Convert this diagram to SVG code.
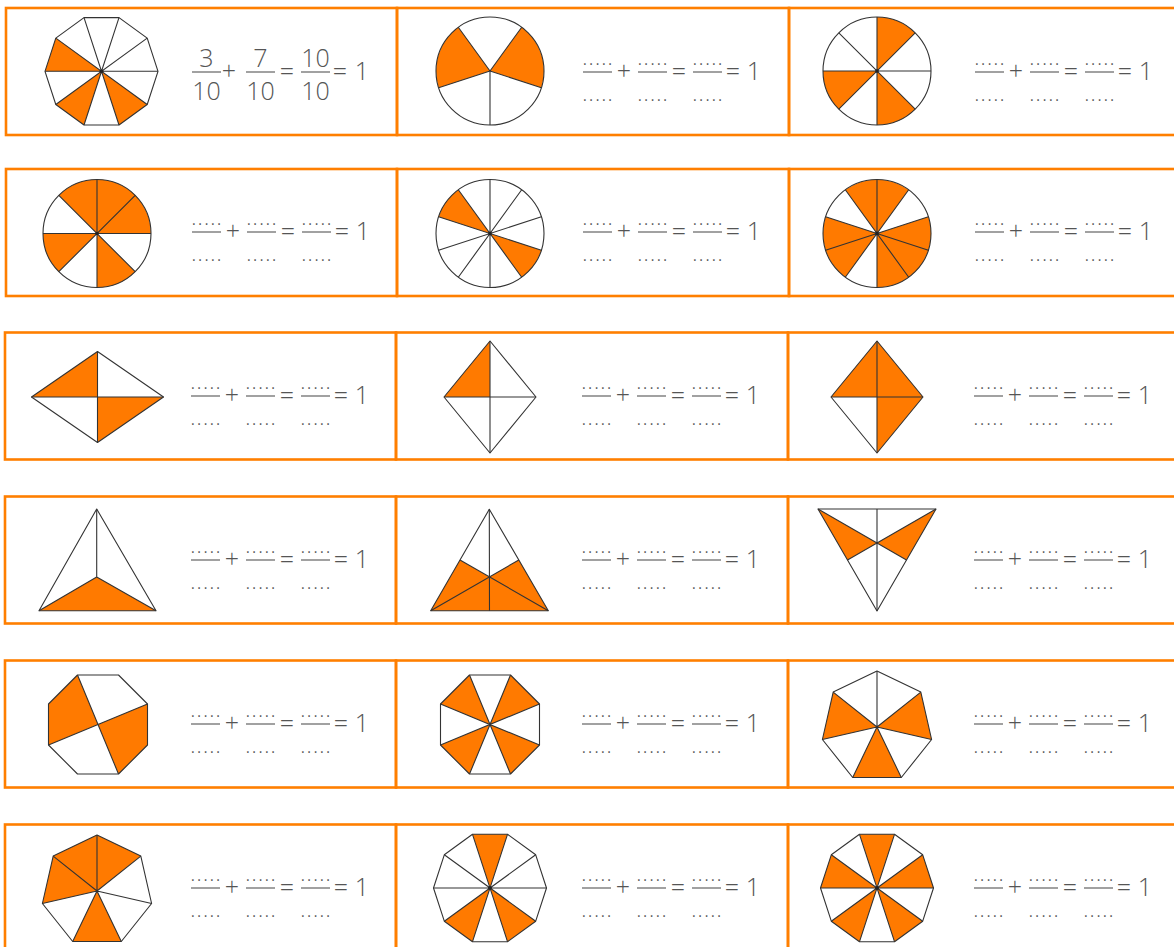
<svg xmlns="http://www.w3.org/2000/svg" width="1174" height="947" viewBox="0 0 1174 947">
<style>
.cell{fill:none;stroke:#FF7F00;stroke-width:2.6}
.or{fill:#FF7A00;stroke:none}
.ln{fill:none;stroke:#333;stroke-width:1.1;stroke-linejoin:round}
.dot{fill:#222}
.bar{stroke:#555;stroke-width:1.1}
.d{font-family:"Open Sans","Liberation Sans",sans-serif;font-size:14px;fill:#555}
.op{font-family:"Open Sans","Liberation Sans",sans-serif;font-weight:300;font-size:25px;fill:#555;text-anchor:middle}
</style>
<rect width="1174" height="947" fill="#fff"/>

<!-- Row 1 -->
<g id="r1c1">
<rect class="cell" x="6" y="8" width="391" height="127"/>
<g transform="translate(101.5,71.3)">
<path class="or" d="M0,0 L-45.7,-33.2 L-56.5,0Z M0,0 L-45.7,33.2 L-17.5,53.7Z M0,0 L17.5,53.7 L45.7,33.2Z"/>
<polygon class="ln" points="56.5,0 45.7,-33.2 17.5,-53.7 -17.5,-53.7 -45.7,-33.2 -56.5,0 -45.7,33.2 -17.5,53.7 17.5,53.7 45.7,33.2"/>
<path class="ln" d="M56.5,0 L-56.5,0 M45.7,-33.2 L-45.7,33.2 M17.5,-53.7 L-17.5,53.7 M-17.5,-53.7 L17.5,53.7 M-45.7,-33.2 L45.7,33.2"/>
<circle class="dot" r="1.8"/>
</g>
<g transform="translate(6,72)">
<text class="op" x="200.5" y="-5">3</text>
<line class="bar" x1="186" y1="0" x2="215" y2="0"/>
<text class="op" x="200.5" y="28">10</text>
<text class="op" x="223" y="8">+</text>
<text class="op" x="254.5" y="-5">7</text>
<line class="bar" x1="240" y1="0" x2="269" y2="0"/>
<text class="op" x="254.5" y="28">10</text>
<text class="op" x="281" y="8">=</text>
<text class="op" x="309.5" y="-5">10</text>
<line class="bar" x1="295" y1="0" x2="324" y2="0"/>
<text class="op" x="309.5" y="28">10</text>
<text class="op" x="334" y="8">=</text>
<text class="op" x="356" y="8">1</text>
</g>
</g>

<g id="r1c2">
<rect class="cell" x="397" y="8" width="392" height="127"/>
<g transform="translate(490,71)">
<path class="or" d="M0,0 L51.4,16.7 A54,54 0 0 0 31.7,-43.7Z M0,0 L-31.7,-43.7 A54,54 0 0 0 -51.4,16.7Z"/>
<circle class="ln" r="54"/>
<path class="ln" d="M0,0 L0,54 M0,0 L51.4,16.7 M0,0 L31.7,-43.7 M0,0 L-31.7,-43.7 M0,0 L-51.4,16.7"/>
</g>
<g transform="translate(397,72)">
<text class="d" x="186" y="-7" textLength="29" lengthAdjust="spacing">.....</text>
<line class="bar" x1="186" y1="0" x2="215" y2="0"/>
<text class="d" x="186" y="29" textLength="29" lengthAdjust="spacing">.....</text>
<text class="op" x="227" y="8">+</text>
<text class="d" x="241" y="-7" textLength="29" lengthAdjust="spacing">.....</text>
<line class="bar" x1="241" y1="0" x2="270" y2="0"/>
<text class="d" x="241" y="29" textLength="29" lengthAdjust="spacing">.....</text>
<text class="op" x="282" y="8">=</text>
<text class="d" x="296" y="-7" textLength="29" lengthAdjust="spacing">.....</text>
<line class="bar" x1="296" y1="0" x2="325" y2="0"/>
<text class="d" x="296" y="29" textLength="29" lengthAdjust="spacing">.....</text>
<text class="op" x="336" y="8">=</text>
<text class="op" x="357" y="8">1</text>
</g>
</g>

<g id="r1c3">
<rect class="cell" x="789" y="8" width="392" height="127"/>
<g transform="translate(877,71)">
<path class="or" d="M0,0 L38.2,-38.2 A54,54 0 0 0 0,-54Z M0,0 L-54,0 A54,54 0 0 0 -38.2,38.2Z M0,0 L0,54 A54,54 0 0 0 38.2,38.2Z"/>
<circle class="ln" r="54"/>
<path class="ln" d="M-54,0 L54,0 M0,-54 L0,54 M-38.2,-38.2 L38.2,38.2 M-38.2,38.2 L38.2,-38.2"/>
<circle class="dot" r="1.8"/>
</g>
<g transform="translate(789,72)">
<text class="d" x="186" y="-7" textLength="29" lengthAdjust="spacing">.....</text>
<line class="bar" x1="186" y1="0" x2="215" y2="0"/>
<text class="d" x="186" y="29" textLength="29" lengthAdjust="spacing">.....</text>
<text class="op" x="227" y="8">+</text>
<text class="d" x="241" y="-7" textLength="29" lengthAdjust="spacing">.....</text>
<line class="bar" x1="241" y1="0" x2="270" y2="0"/>
<text class="d" x="241" y="29" textLength="29" lengthAdjust="spacing">.....</text>
<text class="op" x="282" y="8">=</text>
<text class="d" x="296" y="-7" textLength="29" lengthAdjust="spacing">.....</text>
<line class="bar" x1="296" y1="0" x2="325" y2="0"/>
<text class="d" x="296" y="29" textLength="29" lengthAdjust="spacing">.....</text>
<text class="op" x="336" y="8">=</text>
<text class="op" x="357" y="8">1</text>
</g>
</g>

<!-- Row 2 -->
<g id="r2c1">
<rect class="cell" x="6" y="169" width="391" height="127"/>
<g transform="translate(97,233.5)">
<path class="or" d="M0,0 L54,0 A54,54 0 0 0 -38.2,-38.2Z M0,0 L-54,0 A54,54 0 0 0 -38.2,38.2Z M0,0 L0,54 A54,54 0 0 0 38.2,38.2Z"/>
<circle class="ln" r="54"/>
<path class="ln" d="M-54,0 L54,0 M0,-54 L0,54 M-38.2,-38.2 L38.2,38.2 M-38.2,38.2 L38.2,-38.2"/>
<circle class="dot" r="1.8"/>
</g>
<g transform="translate(6,232)">
<text class="d" x="186" y="-7" textLength="29" lengthAdjust="spacing">.....</text>
<line class="bar" x1="186" y1="0" x2="215" y2="0"/>
<text class="d" x="186" y="29" textLength="29" lengthAdjust="spacing">.....</text>
<text class="op" x="227" y="8">+</text>
<text class="d" x="241" y="-7" textLength="29" lengthAdjust="spacing">.....</text>
<line class="bar" x1="241" y1="0" x2="270" y2="0"/>
<text class="d" x="241" y="29" textLength="29" lengthAdjust="spacing">.....</text>
<text class="op" x="282" y="8">=</text>
<text class="d" x="296" y="-7" textLength="29" lengthAdjust="spacing">.....</text>
<line class="bar" x1="296" y1="0" x2="325" y2="0"/>
<text class="d" x="296" y="29" textLength="29" lengthAdjust="spacing">.....</text>
<text class="op" x="336" y="8">=</text>
<text class="op" x="357" y="8">1</text>
</g>
</g>

<g id="r2c2">
<rect class="cell" x="397" y="169" width="392" height="127"/>
<g transform="translate(490,233.5)">
<path class="or" d="M0,0 L-31.7,-43.7 A54,54 0 0 0 -51.4,-16.7Z M0,0 L31.7,43.7 A54,54 0 0 0 51.4,16.7Z"/>
<circle class="ln" r="54"/>
<path class="ln" d="M51.4,-16.7 L-51.4,16.7 M31.7,-43.7 L-31.7,43.7 M0,-54 L0,54 M-31.7,-43.7 L31.7,43.7 M-51.4,-16.7 L51.4,16.7"/>
<circle class="dot" r="1.8"/>
</g>
<g transform="translate(397,232)">
<text class="d" x="186" y="-7" textLength="29" lengthAdjust="spacing">.....</text>
<line class="bar" x1="186" y1="0" x2="215" y2="0"/>
<text class="d" x="186" y="29" textLength="29" lengthAdjust="spacing">.....</text>
<text class="op" x="227" y="8">+</text>
<text class="d" x="241" y="-7" textLength="29" lengthAdjust="spacing">.....</text>
<line class="bar" x1="241" y1="0" x2="270" y2="0"/>
<text class="d" x="241" y="29" textLength="29" lengthAdjust="spacing">.....</text>
<text class="op" x="282" y="8">=</text>
<text class="d" x="296" y="-7" textLength="29" lengthAdjust="spacing">.....</text>
<line class="bar" x1="296" y1="0" x2="325" y2="0"/>
<text class="d" x="296" y="29" textLength="29" lengthAdjust="spacing">.....</text>
<text class="op" x="336" y="8">=</text>
<text class="op" x="357" y="8">1</text>
</g>
</g>

<g id="r2c3">
<rect class="cell" x="789" y="169" width="392" height="127"/>
<g transform="translate(877,233.5)">
<path class="or" d="M0,0 L31.7,-43.7 A54,54 0 0 0 -31.7,-43.7Z M0,0 L-51.4,-16.7 A54,54 0 0 0 -31.7,43.7Z M0,0 L0,54 A54,54 0 0 0 51.4,-16.7Z"/>
<circle class="ln" r="54"/>
<path class="ln" d="M51.4,-16.7 L-51.4,16.7 M31.7,-43.7 L-31.7,43.7 M0,-54 L0,54 M-31.7,-43.7 L31.7,43.7 M-51.4,-16.7 L51.4,16.7"/>
<circle class="dot" r="1.8"/>
</g>
<g transform="translate(789,232)">
<text class="d" x="186" y="-7" textLength="29" lengthAdjust="spacing">.....</text>
<line class="bar" x1="186" y1="0" x2="215" y2="0"/>
<text class="d" x="186" y="29" textLength="29" lengthAdjust="spacing">.....</text>
<text class="op" x="227" y="8">+</text>
<text class="d" x="241" y="-7" textLength="29" lengthAdjust="spacing">.....</text>
<line class="bar" x1="241" y1="0" x2="270" y2="0"/>
<text class="d" x="241" y="29" textLength="29" lengthAdjust="spacing">.....</text>
<text class="op" x="282" y="8">=</text>
<text class="d" x="296" y="-7" textLength="29" lengthAdjust="spacing">.....</text>
<line class="bar" x1="296" y1="0" x2="325" y2="0"/>
<text class="d" x="296" y="29" textLength="29" lengthAdjust="spacing">.....</text>
<text class="op" x="336" y="8">=</text>
<text class="op" x="357" y="8">1</text>
</g>
</g>

<!-- Row 3 -->
<g id="r3c1">
<rect class="cell" x="5" y="332.5" width="391" height="127"/>
<g transform="translate(97.5,397)">
<path class="or" d="M-66,0 L0,-45.5 L0,0Z M0,0 L66,0 L0,45.5Z"/>
<polygon class="ln" points="-66,0 0,-45.5 66,0 0,45.5"/>
<path class="ln" d="M-66,0 L66,0 M0,-45.5 L0,45.5"/>
</g>
<g transform="translate(5,396)">
<text class="d" x="186" y="-7" textLength="29" lengthAdjust="spacing">.....</text>
<line class="bar" x1="186" y1="0" x2="215" y2="0"/>
<text class="d" x="186" y="29" textLength="29" lengthAdjust="spacing">.....</text>
<text class="op" x="227" y="8">+</text>
<text class="d" x="241" y="-7" textLength="29" lengthAdjust="spacing">.....</text>
<line class="bar" x1="241" y1="0" x2="270" y2="0"/>
<text class="d" x="241" y="29" textLength="29" lengthAdjust="spacing">.....</text>
<text class="op" x="282" y="8">=</text>
<text class="d" x="296" y="-7" textLength="29" lengthAdjust="spacing">.....</text>
<line class="bar" x1="296" y1="0" x2="325" y2="0"/>
<text class="d" x="296" y="29" textLength="29" lengthAdjust="spacing">.....</text>
<text class="op" x="336" y="8">=</text>
<text class="op" x="357" y="8">1</text>
</g>
</g>

<g id="r3c2">
<rect class="cell" x="396" y="332.5" width="392" height="127"/>
<g transform="translate(490,397)">
<path class="or" d="M-46,0 L0,-56 L0,0Z"/>
<polygon class="ln" points="-46,0 0,-56 46,0 0,56"/>
<path class="ln" d="M-46,0 L46,0 M0,-56 L0,56"/>
</g>
<g transform="translate(396,396)">
<text class="d" x="186" y="-7" textLength="29" lengthAdjust="spacing">.....</text>
<line class="bar" x1="186" y1="0" x2="215" y2="0"/>
<text class="d" x="186" y="29" textLength="29" lengthAdjust="spacing">.....</text>
<text class="op" x="227" y="8">+</text>
<text class="d" x="241" y="-7" textLength="29" lengthAdjust="spacing">.....</text>
<line class="bar" x1="241" y1="0" x2="270" y2="0"/>
<text class="d" x="241" y="29" textLength="29" lengthAdjust="spacing">.....</text>
<text class="op" x="282" y="8">=</text>
<text class="d" x="296" y="-7" textLength="29" lengthAdjust="spacing">.....</text>
<line class="bar" x1="296" y1="0" x2="325" y2="0"/>
<text class="d" x="296" y="29" textLength="29" lengthAdjust="spacing">.....</text>
<text class="op" x="336" y="8">=</text>
<text class="op" x="357" y="8">1</text>
</g>
</g>

<g id="r3c3">
<rect class="cell" x="788" y="332.5" width="393" height="127"/>
<g transform="translate(877,397)">
<path class="or" d="M-46,0 L0,-56 L46,0Z M0,0 L46,0 L0,56Z"/>
<polygon class="ln" points="-46,0 0,-56 46,0 0,56"/>
<path class="ln" d="M-46,0 L46,0 M0,-56 L0,56"/>
</g>
<g transform="translate(788,396)">
<text class="d" x="186" y="-7" textLength="29" lengthAdjust="spacing">.....</text>
<line class="bar" x1="186" y1="0" x2="215" y2="0"/>
<text class="d" x="186" y="29" textLength="29" lengthAdjust="spacing">.....</text>
<text class="op" x="227" y="8">+</text>
<text class="d" x="241" y="-7" textLength="29" lengthAdjust="spacing">.....</text>
<line class="bar" x1="241" y1="0" x2="270" y2="0"/>
<text class="d" x="241" y="29" textLength="29" lengthAdjust="spacing">.....</text>
<text class="op" x="282" y="8">=</text>
<text class="d" x="296" y="-7" textLength="29" lengthAdjust="spacing">.....</text>
<line class="bar" x1="296" y1="0" x2="325" y2="0"/>
<text class="d" x="296" y="29" textLength="29" lengthAdjust="spacing">.....</text>
<text class="op" x="336" y="8">=</text>
<text class="op" x="357" y="8">1</text>
</g>
</g>

<!-- Row 4 -->
<g id="r4c1">
<rect class="cell" x="5" y="496.5" width="391" height="127"/>
<path class="or" d="M39,610.7 L156,610.7 L96.7,577Z"/>
<polygon class="ln" points="96.7,509 156,610.7 39,610.7"/>
<path class="ln" d="M96.7,509 L96.7,577 L39,610.7 M96.7,577 L156,610.7"/>
<g transform="translate(5,560)">
<text class="d" x="186" y="-7" textLength="29" lengthAdjust="spacing">.....</text>
<line class="bar" x1="186" y1="0" x2="215" y2="0"/>
<text class="d" x="186" y="29" textLength="29" lengthAdjust="spacing">.....</text>
<text class="op" x="227" y="8">+</text>
<text class="d" x="241" y="-7" textLength="29" lengthAdjust="spacing">.....</text>
<line class="bar" x1="241" y1="0" x2="270" y2="0"/>
<text class="d" x="241" y="29" textLength="29" lengthAdjust="spacing">.....</text>
<text class="op" x="282" y="8">=</text>
<text class="d" x="296" y="-7" textLength="29" lengthAdjust="spacing">.....</text>
<line class="bar" x1="296" y1="0" x2="325" y2="0"/>
<text class="d" x="296" y="29" textLength="29" lengthAdjust="spacing">.....</text>
<text class="op" x="336" y="8">=</text>
<text class="op" x="357" y="8">1</text>
</g>
</g>

<g id="r4c2">
<rect class="cell" x="396" y="496.5" width="392" height="127"/>
<path class="or" d="M430.7,610.7 L460,560 L489.4,576.9 L518.8,560 L548.3,610.7Z"/>
<polygon class="ln" points="489.3,509.3 548.3,610.7 430.7,610.7"/>
<path class="ln" d="M489.3,509.3 L489.5,610.7 M430.7,610.7 L518.8,560 M548.3,610.7 L460,560"/>
<g transform="translate(396,560)">
<text class="d" x="186" y="-7" textLength="29" lengthAdjust="spacing">.....</text>
<line class="bar" x1="186" y1="0" x2="215" y2="0"/>
<text class="d" x="186" y="29" textLength="29" lengthAdjust="spacing">.....</text>
<text class="op" x="227" y="8">+</text>
<text class="d" x="241" y="-7" textLength="29" lengthAdjust="spacing">.....</text>
<line class="bar" x1="241" y1="0" x2="270" y2="0"/>
<text class="d" x="241" y="29" textLength="29" lengthAdjust="spacing">.....</text>
<text class="op" x="282" y="8">=</text>
<text class="d" x="296" y="-7" textLength="29" lengthAdjust="spacing">.....</text>
<line class="bar" x1="296" y1="0" x2="325" y2="0"/>
<text class="d" x="296" y="29" textLength="29" lengthAdjust="spacing">.....</text>
<text class="op" x="336" y="8">=</text>
<text class="op" x="357" y="8">1</text>
</g>
</g>

<g id="r4c3">
<rect class="cell" x="788" y="496.5" width="393" height="127"/>
<path class="or" d="M818,509 L877,543 L847.5,560Z M936,509 L877,543 L906.5,560Z"/>
<polygon class="ln" points="818,509 936,509 877,611"/>
<path class="ln" d="M877,509 L877,611 M818,509 L906.5,560 M936,509 L847.5,560"/>
<g transform="translate(788,560)">
<text class="d" x="186" y="-7" textLength="29" lengthAdjust="spacing">.....</text>
<line class="bar" x1="186" y1="0" x2="215" y2="0"/>
<text class="d" x="186" y="29" textLength="29" lengthAdjust="spacing">.....</text>
<text class="op" x="227" y="8">+</text>
<text class="d" x="241" y="-7" textLength="29" lengthAdjust="spacing">.....</text>
<line class="bar" x1="241" y1="0" x2="270" y2="0"/>
<text class="d" x="241" y="29" textLength="29" lengthAdjust="spacing">.....</text>
<text class="op" x="282" y="8">=</text>
<text class="d" x="296" y="-7" textLength="29" lengthAdjust="spacing">.....</text>
<line class="bar" x1="296" y1="0" x2="325" y2="0"/>
<text class="d" x="296" y="29" textLength="29" lengthAdjust="spacing">.....</text>
<text class="op" x="336" y="8">=</text>
<text class="op" x="357" y="8">1</text>
</g>
</g>

<!-- Row 5 -->
<g id="r5c1">
<rect class="cell" x="5" y="660.5" width="391" height="127"/>
<g transform="translate(98,724.5)">
<path class="or" d="M0,0 L-20.5,-49.5 L-49.5,-20.5 L-49.5,20.5Z M0,0 L20.5,49.5 L49.5,20.5 L49.5,-20.5Z"/>
<polygon class="ln" points="49.5,-20.5 20.5,-49.5 -20.5,-49.5 -49.5,-20.5 -49.5,20.5 -20.5,49.5 20.5,49.5 49.5,20.5"/>
<path class="ln" d="M-20.5,-49.5 L20.5,49.5 M-49.5,20.5 L49.5,-20.5"/>
</g>
<g transform="translate(5,724)">
<text class="d" x="186" y="-7" textLength="29" lengthAdjust="spacing">.....</text>
<line class="bar" x1="186" y1="0" x2="215" y2="0"/>
<text class="d" x="186" y="29" textLength="29" lengthAdjust="spacing">.....</text>
<text class="op" x="227" y="8">+</text>
<text class="d" x="241" y="-7" textLength="29" lengthAdjust="spacing">.....</text>
<line class="bar" x1="241" y1="0" x2="270" y2="0"/>
<text class="d" x="241" y="29" textLength="29" lengthAdjust="spacing">.....</text>
<text class="op" x="282" y="8">=</text>
<text class="d" x="296" y="-7" textLength="29" lengthAdjust="spacing">.....</text>
<line class="bar" x1="296" y1="0" x2="325" y2="0"/>
<text class="d" x="296" y="29" textLength="29" lengthAdjust="spacing">.....</text>
<text class="op" x="336" y="8">=</text>
<text class="op" x="357" y="8">1</text>
</g>
</g>

<g id="r5c2">
<rect class="cell" x="396" y="660.5" width="392" height="127"/>
<g transform="translate(490,724.5)">
<path class="or" d="M0,0 L49.5,-20.5 L20.5,-49.5Z M0,0 L-20.5,-49.5 L-49.5,-20.5Z M0,0 L-49.5,20.5 L-20.5,49.5Z M0,0 L20.5,49.5 L49.5,20.5Z"/>
<polygon class="ln" points="49.5,-20.5 20.5,-49.5 -20.5,-49.5 -49.5,-20.5 -49.5,20.5 -20.5,49.5 20.5,49.5 49.5,20.5"/>
<path class="ln" d="M-20.5,-49.5 L20.5,49.5 M-49.5,20.5 L49.5,-20.5 M20.5,-49.5 L-20.5,49.5 M-49.5,-20.5 L49.5,20.5"/>
</g>
<g transform="translate(396,724)">
<text class="d" x="186" y="-7" textLength="29" lengthAdjust="spacing">.....</text>
<line class="bar" x1="186" y1="0" x2="215" y2="0"/>
<text class="d" x="186" y="29" textLength="29" lengthAdjust="spacing">.....</text>
<text class="op" x="227" y="8">+</text>
<text class="d" x="241" y="-7" textLength="29" lengthAdjust="spacing">.....</text>
<line class="bar" x1="241" y1="0" x2="270" y2="0"/>
<text class="d" x="241" y="29" textLength="29" lengthAdjust="spacing">.....</text>
<text class="op" x="282" y="8">=</text>
<text class="d" x="296" y="-7" textLength="29" lengthAdjust="spacing">.....</text>
<line class="bar" x1="296" y1="0" x2="325" y2="0"/>
<text class="d" x="296" y="29" textLength="29" lengthAdjust="spacing">.....</text>
<text class="op" x="336" y="8">=</text>
<text class="op" x="357" y="8">1</text>
</g>
</g>

<g id="r5c3">
<rect class="cell" x="788" y="660.5" width="393" height="127"/>
<g transform="translate(877,727)">
<path class="or" d="M0,0 L-43.8,-34.9 L-54.6,12.5Z M0,0 L-24.3,50.5 L24.3,50.5Z M0,0 L54.6,12.5 L43.8,-34.9Z"/>
<polygon class="ln" points="0,-56 -43.8,-34.9 -54.6,12.5 -24.3,50.5 24.3,50.5 54.6,12.5 43.8,-34.9"/>
<path class="ln" d="M0,0 L0,-56 M0,0 L-43.8,-34.9 M0,0 L-54.6,12.5 M0,0 L-24.3,50.5 M0,0 L24.3,50.5 M0,0 L54.6,12.5 M0,0 L43.8,-34.9"/>
</g>
<g transform="translate(788,724)">
<text class="d" x="186" y="-7" textLength="29" lengthAdjust="spacing">.....</text>
<line class="bar" x1="186" y1="0" x2="215" y2="0"/>
<text class="d" x="186" y="29" textLength="29" lengthAdjust="spacing">.....</text>
<text class="op" x="227" y="8">+</text>
<text class="d" x="241" y="-7" textLength="29" lengthAdjust="spacing">.....</text>
<line class="bar" x1="241" y1="0" x2="270" y2="0"/>
<text class="d" x="241" y="29" textLength="29" lengthAdjust="spacing">.....</text>
<text class="op" x="282" y="8">=</text>
<text class="d" x="296" y="-7" textLength="29" lengthAdjust="spacing">.....</text>
<line class="bar" x1="296" y1="0" x2="325" y2="0"/>
<text class="d" x="296" y="29" textLength="29" lengthAdjust="spacing">.....</text>
<text class="op" x="336" y="8">=</text>
<text class="op" x="357" y="8">1</text>
</g>
</g>

<!-- Row 6 -->
<g id="r6c1">
<rect class="cell" x="5" y="824.5" width="391" height="127"/>
<g transform="translate(97,891)">
<path class="or" d="M0,0 L-43.8,-34.9 L0,-56 L43.8,-34.9Z M0,0 L-43.8,-34.9 L-54.6,12.5Z M0,0 L-24.3,50.5 L24.3,50.5Z"/>
<polygon class="ln" points="0,-56 -43.8,-34.9 -54.6,12.5 -24.3,50.5 24.3,50.5 54.6,12.5 43.8,-34.9"/>
<path class="ln" d="M0,0 L0,-56 M0,0 L-43.8,-34.9 M0,0 L-54.6,12.5 M0,0 L-24.3,50.5 M0,0 L24.3,50.5 M0,0 L54.6,12.5 M0,0 L43.8,-34.9"/>
</g>
<g transform="translate(5,888)">
<text class="d" x="186" y="-7" textLength="29" lengthAdjust="spacing">.....</text>
<line class="bar" x1="186" y1="0" x2="215" y2="0"/>
<text class="d" x="186" y="29" textLength="29" lengthAdjust="spacing">.....</text>
<text class="op" x="227" y="8">+</text>
<text class="d" x="241" y="-7" textLength="29" lengthAdjust="spacing">.....</text>
<line class="bar" x1="241" y1="0" x2="270" y2="0"/>
<text class="d" x="241" y="29" textLength="29" lengthAdjust="spacing">.....</text>
<text class="op" x="282" y="8">=</text>
<text class="d" x="296" y="-7" textLength="29" lengthAdjust="spacing">.....</text>
<line class="bar" x1="296" y1="0" x2="325" y2="0"/>
<text class="d" x="296" y="29" textLength="29" lengthAdjust="spacing">.....</text>
<text class="op" x="336" y="8">=</text>
<text class="op" x="357" y="8">1</text>
</g>
</g>

<g id="r6c2">
<rect class="cell" x="396" y="824.5" width="392" height="127"/>
<g transform="translate(490,888)">
<path class="or" d="M0,0 L17.5,-53.7 L-17.5,-53.7Z M0,0 L-45.7,33.2 L-17.5,53.7Z M0,0 L17.5,53.7 L45.7,33.2Z"/>
<polygon class="ln" points="56.5,0 45.7,-33.2 17.5,-53.7 -17.5,-53.7 -45.7,-33.2 -56.5,0 -45.7,33.2 -17.5,53.7 17.5,53.7 45.7,33.2"/>
<path class="ln" d="M56.5,0 L-56.5,0 M45.7,-33.2 L-45.7,33.2 M17.5,-53.7 L-17.5,53.7 M-17.5,-53.7 L17.5,53.7 M-45.7,-33.2 L45.7,33.2"/>
<circle class="dot" r="1.8"/>
</g>
<g transform="translate(396,888)">
<text class="d" x="186" y="-7" textLength="29" lengthAdjust="spacing">.....</text>
<line class="bar" x1="186" y1="0" x2="215" y2="0"/>
<text class="d" x="186" y="29" textLength="29" lengthAdjust="spacing">.....</text>
<text class="op" x="227" y="8">+</text>
<text class="d" x="241" y="-7" textLength="29" lengthAdjust="spacing">.....</text>
<line class="bar" x1="241" y1="0" x2="270" y2="0"/>
<text class="d" x="241" y="29" textLength="29" lengthAdjust="spacing">.....</text>
<text class="op" x="282" y="8">=</text>
<text class="d" x="296" y="-7" textLength="29" lengthAdjust="spacing">.....</text>
<line class="bar" x1="296" y1="0" x2="325" y2="0"/>
<text class="d" x="296" y="29" textLength="29" lengthAdjust="spacing">.....</text>
<text class="op" x="336" y="8">=</text>
<text class="op" x="357" y="8">1</text>
</g>
</g>

<g id="r6c3">
<rect class="cell" x="788" y="824.5" width="393" height="127"/>
<g transform="translate(877,888)">
<path class="or" d="M0,0 L17.5,-53.7 L-17.5,-53.7Z M0,0 L-45.7,-33.2 L-56.5,0Z M0,0 L45.7,-33.2 L56.5,0Z M0,0 L-45.7,33.2 L-17.5,53.7Z M0,0 L17.5,53.7 L45.7,33.2Z"/>
<polygon class="ln" points="56.5,0 45.7,-33.2 17.5,-53.7 -17.5,-53.7 -45.7,-33.2 -56.5,0 -45.7,33.2 -17.5,53.7 17.5,53.7 45.7,33.2"/>
<path class="ln" d="M56.5,0 L-56.5,0 M45.7,-33.2 L-45.7,33.2 M17.5,-53.7 L-17.5,53.7 M-17.5,-53.7 L17.5,53.7 M-45.7,-33.2 L45.7,33.2"/>
<circle class="dot" r="1.8"/>
</g>
<g transform="translate(788,888)">
<text class="d" x="186" y="-7" textLength="29" lengthAdjust="spacing">.....</text>
<line class="bar" x1="186" y1="0" x2="215" y2="0"/>
<text class="d" x="186" y="29" textLength="29" lengthAdjust="spacing">.....</text>
<text class="op" x="227" y="8">+</text>
<text class="d" x="241" y="-7" textLength="29" lengthAdjust="spacing">.....</text>
<line class="bar" x1="241" y1="0" x2="270" y2="0"/>
<text class="d" x="241" y="29" textLength="29" lengthAdjust="spacing">.....</text>
<text class="op" x="282" y="8">=</text>
<text class="d" x="296" y="-7" textLength="29" lengthAdjust="spacing">.....</text>
<line class="bar" x1="296" y1="0" x2="325" y2="0"/>
<text class="d" x="296" y="29" textLength="29" lengthAdjust="spacing">.....</text>
<text class="op" x="336" y="8">=</text>
<text class="op" x="357" y="8">1</text>
</g>
</g>
</svg>
